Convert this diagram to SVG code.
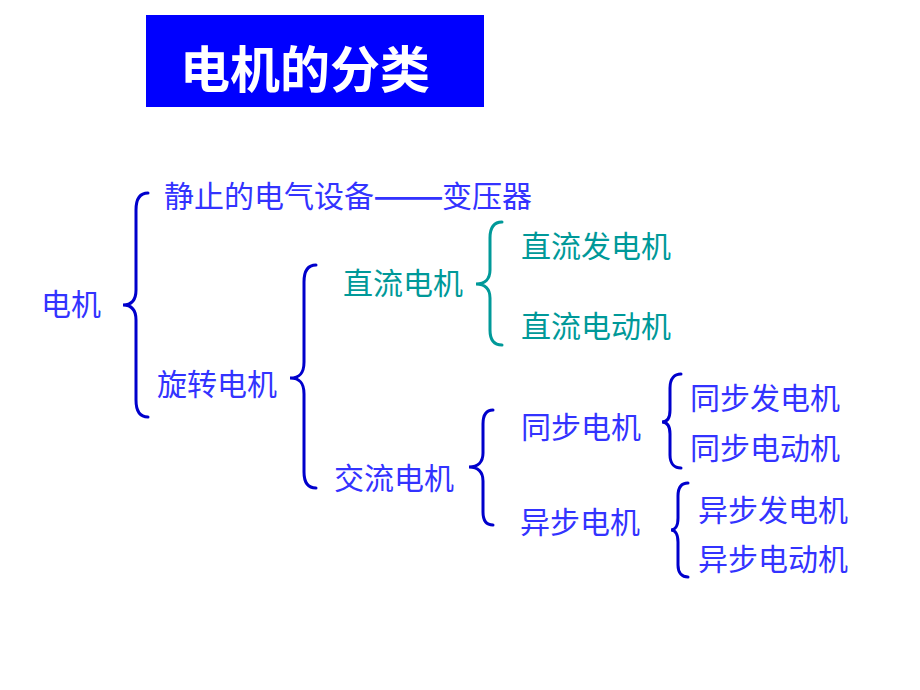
<svg xmlns="http://www.w3.org/2000/svg" width="920" height="690" viewBox="0 0 920 690">
<style>
text{font-family:"Noto Sans CJK SC","Noto Sans CJK TC",sans-serif;font-size:30px}
.b{fill:#3333FF}
.t{fill:#009999}
.br{fill:none;stroke:#0000CC;stroke-width:3;stroke-linecap:round}
.brt{fill:none;stroke:#009999;stroke-width:3;stroke-linecap:round}
.title{fill:#FFFFFF;font-size:50px;font-weight:bold}
</style>
<rect width="920" height="690" fill="#FFFFFF"/>
<g id="title">
<rect x="146" y="15" width="338" height="92" fill="#0000FF"/>
<text class="title" x="180" y="88">电机的分类</text>
</g>
<g id="connectors">
<path class="br" d="M148 193 C140 193 136 198 136 210 L136 290 C136 300 132 305 123 305 C132 305 136 310 136 320 L136 400 C136 412 140 417 148 417"/>
<path class="br" d="M316 265 C308 265 304 270 304 282 L304 362 C304 373 300 378 290 378 C300 378 304 383 304 394 L304 472 C304 483 308 488 316 488"/>
<path class="brt" d="M502 222 C494 222 490 227 490 238 L490 270 C490 279 485 284 476 284 C485 284 490 289 490 298 L490 330 C490 340 494 345 502 345"/>
<path class="br" d="M493 410 C487 410 483 414 483 424 L483 453 C483 462 478 467 469 467 C478 467 483 472 483 481 L483 512 C483 521 487 525 493 525"/>
<path class="br" d="M681 374 C675 374 670 378 670 388 L670 410 C670 418 667 422 662 422 C667 422 670 426 670 434 L670 455 C670 464 675 468 681 468"/>
<path class="br" d="M688 483 C682 483 678 487 678 496 L678 518 C678 526 675 530 671 530 C675 530 678 534 678 542 L678 565 C678 573 682 577 688 577"/>
</g>
<g id="n-dianji"><text class="b" x="41" y="315">电机</text></g>
<g id="n-jingzhi"><text class="b" x="164" y="207">静止的电气设备<tspan x="373" font-weight="bold" textLength="71" lengthAdjust="spacingAndGlyphs">——</tspan><tspan x="442">变压器</tspan></text></g>
<g id="n-xuanzhuan"><text class="b" x="157" y="395">旋转电机</text></g>
<g id="n-zhiliu"><text class="t" x="343" y="294">直流电机</text></g>
<g id="n-zhiliu-fa"><text class="t" x="521" y="257">直流发电机</text></g>
<g id="n-zhiliu-dong"><text class="t" x="521" y="337">直流电动机</text></g>
<g id="n-jiaoliu"><text class="b" x="334" y="489">交流电机</text></g>
<g id="n-tongbu"><text class="b" x="521" y="438">同步电机</text></g>
<g id="n-yibu"><text class="b" x="520" y="533">异步电机</text></g>
<g id="n-tongbu-fa"><text class="b" x="690" y="409">同步发电机</text></g>
<g id="n-tongbu-dong"><text class="b" x="690" y="459">同步电动机</text></g>
<g id="n-yibu-fa"><text class="b" x="698" y="521">异步发电机</text></g>
<g id="n-yibu-dong"><text class="b" x="698" y="570">异步电动机</text></g>
</svg>
